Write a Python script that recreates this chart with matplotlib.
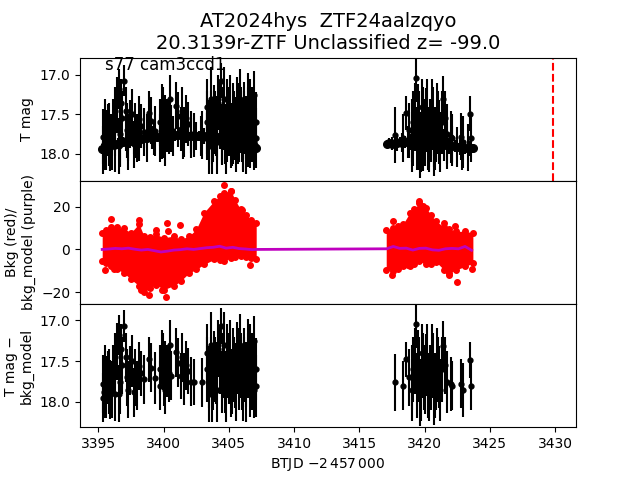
import numpy as np
import matplotlib
matplotlib.use("Agg")
import matplotlib.pyplot as plt

title = "AT2024hys  ZTF24aalzqyo\n20.3139r-ZTF Unclassified z= -99.0"
sector_label = "s77 cam3ccd1"
t_mark = 3429.87

# light curve, well sampled band (top panel only)
t_band1 = [3395.3, 3395.5, 3395.7, 3395.9, 3396.1, 3396.3, 3396.5, 3396.7, 3396.9, 3397.1,
           3397.3, 3397.5, 3397.7, 3397.9, 3398.1, 3398.3, 3398.5, 3398.7, 3398.9, 3399.1,
           3399.3, 3399.5, 3399.7, 3399.9, 3400.1, 3400.3, 3400.5, 3400.7, 3400.9, 3401.1,
           3401.3, 3401.5, 3401.7, 3401.9, 3402.1, 3402.3, 3402.5, 3402.7, 3402.9, 3403.1,
           3403.3, 3403.5, 3403.7, 3403.9, 3404.1, 3404.3, 3404.5, 3404.7, 3404.9, 3405.1,
           3405.3, 3405.5, 3405.7, 3405.9, 3406.1, 3406.3, 3406.5, 3406.7, 3406.9, 3407.1]
m_band1 = [17.94, 17.92, 17.91, 17.90, 17.88, 17.88, 17.87, 17.86, 17.85, 17.84,
           17.84, 17.83, 17.82, 17.82, 17.81, 17.81, 17.80, 17.80, 17.79, 17.79,
           17.79, 17.78, 17.78, 17.78, 17.77, 17.77, 17.77, 17.77, 17.76, 17.76,
           17.76, 17.76, 17.76, 17.77, 17.77, 17.77, 17.77, 17.77, 17.77, 17.77,
           17.78, 17.78, 17.78, 17.78, 17.78, 17.79, 17.79, 17.79, 17.80, 17.80,
           17.81, 17.82, 17.83, 17.84, 17.85, 17.86, 17.87, 17.88, 17.90, 17.92]
e_band1 = [0.06, 0.2, 0.08, 0.25, 0.05, 0.15, 0.07, 0.3, 0.06, 0.12,
           0.25, 0.05, 0.18, 0.07, 0.28, 0.06, 0.12, 0.3, 0.05, 0.15,
           0.22, 0.06, 0.1, 0.28, 0.07, 0.2, 0.05, 0.25, 0.08, 0.15,
           0.06, 0.3, 0.1, 0.07, 0.22, 0.05, 0.18, 0.06, 0.25, 0.1,
           0.3, 0.12, 0.35, 0.1, 0.3, 0.15, 0.35, 0.12, 0.3, 0.2,
           0.32, 0.12, 0.3, 0.15, 0.35, 0.1, 0.3, 0.12, 0.25, 0.08]

t_band2 = [3417.1, 3417.3, 3417.5, 3417.7, 3417.9, 3418.1, 3418.3, 3418.5, 3418.7, 3418.9,
           3419.1, 3419.3, 3419.5, 3419.7, 3419.9, 3420.1, 3420.3, 3420.5, 3420.7, 3420.9,
           3421.1, 3421.3, 3421.5, 3421.7, 3421.9, 3422.1, 3422.3, 3422.5, 3422.7, 3422.9,
           3423.1, 3423.3, 3423.5, 3423.7]
m_band2 = [17.87, 17.86, 17.87, 17.86, 17.86, 17.85, 17.86, 17.85, 17.85, 17.85,
           17.85, 17.84, 17.85, 17.85, 17.86, 17.86, 17.86, 17.87, 17.87, 17.88,
           17.88, 17.88, 17.89, 17.89, 17.90, 17.90, 17.90, 17.91, 17.91, 17.92,
           17.92, 17.92, 17.93, 17.93]
e_band2 = [0.05, 0.06, 0.08, 0.05, 0.1, 0.06, 0.12, 0.08, 0.2, 0.1,
           0.3, 0.12, 0.35, 0.15, 0.35, 0.12, 0.3, 0.15, 0.3, 0.12,
           0.25, 0.1, 0.2, 0.3, 0.1, 0.25, 0.08, 0.25, 0.1, 0.28,
           0.08, 0.3, 0.1, 0.06]

# sparse points with big errors (top and bottom panels)
t_pt = [3395.35, 3395.45, 3395.6, 3395.75, 3395.9, 3396.1, 3396.25, 3396.4, 3396.55, 3396.7,
        3396.85, 3396.97, 3397.1, 3397.3, 3397.45, 3397.6, 3397.8, 3397.95, 3398.13, 3398.3,
        3398.5, 3398.9, 3399.05, 3399.35, 3399.7, 3399.85, 3400.0, 3400.15, 3400.3, 3400.48,
        3400.6, 3400.94, 3401.1, 3401.3, 3401.45, 3401.6, 3401.75, 3401.9, 3402.1, 3402.3,
        3402.94, 3403.3, 3403.45, 3403.6, 3403.75, 3403.9, 3404.05, 3404.2, 3404.4, 3404.55,
        3404.7, 3404.85, 3405.0, 3405.15, 3405.3, 3405.45, 3405.6, 3405.75, 3405.9, 3406.05,
        3406.2, 3406.35, 3406.5, 3406.65, 3406.8, 3406.95, 3407.1,
        3395.4, 3395.55, 3395.85, 3396.05, 3396.3, 3396.6, 3396.75, 3397.2, 3397.7, 3399.75,
        3399.95, 3400.1, 3400.4, 3403.35, 3403.5, 3403.65, 3403.8, 3403.95, 3404.1, 3404.3,
        3404.5, 3404.65, 3404.8, 3404.95, 3405.1, 3405.25, 3405.4, 3405.55, 3405.7, 3405.85,
        3406.0, 3406.15, 3406.3, 3406.45, 3406.6, 3406.75, 3406.9, 3407.05,
        3417.7, 3418.33, 3418.6, 3418.8, 3419.0, 3419.15, 3419.36, 3419.5, 3419.65, 3419.8,
        3419.95, 3420.1, 3420.25, 3420.4, 3420.55, 3420.7, 3420.85, 3421.0, 3421.2, 3421.4,
        3421.55, 3421.7, 3422.0, 3422.1, 3422.8, 3422.95, 3423.45, 3423.55,
        3419.05, 3419.25, 3419.45, 3419.6, 3419.75, 3419.9, 3420.05, 3420.2, 3420.35, 3420.5,
        3420.65, 3420.8, 3420.95, 3421.1, 3421.3]
m_pt = [17.78, 17.88, 17.82, 17.70, 17.85, 17.60, 17.90, 17.38, 17.18, 17.75,
        17.55, 17.07, 17.45, 17.85, 17.62, 17.50, 17.70, 17.80, 17.56, 17.65,
        17.72, 17.48, 17.58, 17.71, 17.60, 17.45, 17.70, 17.55, 17.62, 17.30,
        17.68, 17.39, 17.52, 17.68, 17.45, 17.72, 17.55, 17.62, 17.75, 17.76,
        17.76, 17.40, 17.70, 17.55, 17.85, 17.48, 17.65, 17.35, 17.07, 17.55,
        17.75, 17.40, 17.62, 17.80, 17.45, 17.68, 17.35, 17.72, 17.55, 17.85,
        17.42, 17.66, 17.30, 17.78, 17.50, 17.25, 17.80,
        17.95, 17.65, 17.75, 17.85, 17.45, 17.90, 17.35, 17.70, 17.88, 17.80,
        17.50, 17.85, 17.65, 17.60, 17.90, 17.30, 17.70, 17.60, 17.85, 17.50,
        17.75, 17.30, 17.90, 17.55, 17.40, 17.75, 17.60, 17.85, 17.50, 17.30,
        17.70, 17.60, 17.90, 17.55, 17.45, 17.70, 17.85, 17.60,
        17.76, 17.80, 17.48, 17.70, 17.85, 17.60, 17.04, 17.50, 17.90, 17.40,
        17.70, 17.55, 17.80, 17.65, 17.45, 17.90, 17.75, 17.60, 17.85, 17.31,
        17.55, 17.75, 17.78, 17.80, 17.78, 17.85, 17.49, 17.80,
        17.70, 17.50, 17.80, 17.60, 17.85, 17.55, 17.75, 17.45, 17.85, 17.70,
        17.55, 17.80, 17.50, 17.70, 17.60]
e_pt = [0.35, 0.32, 0.38, 0.33, 0.36, 0.30, 0.33, 0.35, 0.25, 0.40,
        0.35, 0.20, 0.30, 0.35, 0.30, 0.32, 0.35, 0.30, 0.30, 0.28,
        0.30, 0.28, 0.30, 0.32, 0.30, 0.33, 0.35, 0.30, 0.32, 0.30,
        0.30, 0.30, 0.30, 0.28, 0.30, 0.32, 0.30, 0.28, 0.30, 0.28,
        0.30, 0.35, 0.38, 0.35, 0.40, 0.35, 0.38, 0.35, 0.22, 0.40,
        0.38, 0.35, 0.40, 0.38, 0.35, 0.40, 0.33, 0.38, 0.40, 0.38,
        0.33, 0.40, 0.32, 0.40, 0.35, 0.30, 0.38,
        0.30, 0.35, 0.40, 0.35, 0.30, 0.35, 0.30, 0.35, 0.30, 0.30,
        0.35, 0.30, 0.35, 0.40, 0.35, 0.40, 0.40, 0.40, 0.40, 0.40,
        0.38, 0.40, 0.35, 0.40, 0.40, 0.40, 0.40, 0.38, 0.40, 0.38,
        0.40, 0.40, 0.35, 0.40, 0.40, 0.40, 0.35, 0.38,
        0.35, 0.30, 0.22, 0.35, 0.38, 0.40, 0.30, 0.38, 0.40, 0.35,
        0.40, 0.38, 0.40, 0.35, 0.40, 0.38, 0.35, 0.40, 0.38, 0.30,
        0.35, 0.38, 0.33, 0.30, 0.30, 0.33, 0.22, 0.30,
        0.40, 0.40, 0.40, 0.40, 0.38, 0.40, 0.40, 0.40, 0.38, 0.40,
        0.40, 0.40, 0.40, 0.38, 0.40]

# background flux: envelope of the red cloud + outliers
t_bkg = [3395.3, 3395.6, 3395.95, 3396.47, 3396.97, 3397.49, 3398.12, 3398.5, 3399.0, 3399.4,
         3400.04, 3400.8, 3401.3, 3401.96, 3402.5, 3403.1, 3403.88, 3404.3, 3404.65, 3405.16,
         3405.5, 3405.9, 3406.3, 3406.7, 3407.1,
         3417.06, 3417.57, 3418.0, 3418.34, 3418.85, 3419.2, 3419.6, 3420.13, 3420.5, 3420.9,
         3421.5, 3421.9, 3422.4, 3423.1, 3423.7]
bkg_hi = [7.8, 9.0, 10.3, 10.3, 9.9, 7.8, 12.0, 6.3, 6.0, 7.1,
          5.5, 6.3, 4.7, 6.3, 9.4, 17.3, 22.8, 25.0, 26.7, 27.5,
          23.0, 18.8, 16.0, 14.0, 12.5,
          9.3, 10.0, 11.0, 11.8, 17.0, 19.0, 21.8, 19.5, 16.0, 13.2,
          10.4, 9.4, 8.5, 8.5, 7.8]
bkg_lo = [-5.5, -6.5, -7.8, -9.4, -11.0, -14.0, -17.0, -20.0, -18.0, -16.5,
          -18.8, -17.0, -14.9, -11.0, -9.4, -7.0, -4.7, -5.0, -5.5, -3.9,
          -3.5, -3.1, -3.5, -3.9, -4.7,
          -9.6, -10.0, -9.0, -8.0, -8.0, -7.0, -5.6, -7.0, -7.0, -6.0,
          -9.6, -11.0, -9.6, -8.0, -6.4]
t_out = [3395.99, 3398.13, 3399.46, 3400.3, 3400.32, 3401.27, 3395.49, 3396.2, 3398.25, 3398.9,
         3400.17, 3399.9, 3406.64, 3404.65, 3405.16, 3406.0,
         3417.6, 3417.5, 3419.6, 3419.9, 3421.5, 3422.3, 3421.87, 3422.5, 3423.6, 3418.7]
bkg_out = [14.4, 13.8, 9.1, 12.2, 8.6, 11.3, -9.7, -9.1, -18.8, -21.2,
           -22.3, -18.8, -7.1, 30.1, 27.5, 18.5,
           13.2, -11.9, 22.6, 20.2, 12.4, 10.8, -12.2, -15.1, -9.1, -7.5]

# background model (purple)
t_mod = [3395.3, 3395.8, 3396.3, 3396.8, 3397.3, 3397.8, 3398.3, 3398.8, 3399.3, 3399.8,
         3400.3, 3400.8, 3401.3, 3401.8, 3402.3, 3402.8, 3403.3, 3403.8, 3404.3, 3404.8,
         3405.3, 3405.8, 3406.3, 3406.8, 3407.1,
         3417.1, 3417.6, 3418.1, 3418.6, 3419.1, 3419.6, 3420.1, 3420.6, 3421.1, 3421.6,
         3422.1, 3422.6, 3423.1, 3423.6]
bkg_mod = [0.0, 0.2, 0.5, 0.3, 0.6, 0.1, -0.3, 0.0, -0.6, -1.2,
           -0.8, -0.3, -0.1, 0.3, 0.0, 0.4, 0.8, 1.0, 1.5, 0.6,
           1.0, 0.4, 0.2, -0.1, 0.0,
           0.3, 1.4, 0.5, 0.6, -0.3, 0.5, 0.6, -0.2, -0.4, 0.3,
           0.5, 0.3, 1.4, -0.4]

fig, axs = plt.subplots(3, 1, sharex=True, figsize=(6.4, 4.8))
fig.subplots_adjust(hspace=0)

ax = axs[0]
ax.errorbar(t_pt, m_pt, yerr=e_pt, fmt='.k', ms=7, elinewidth=1.5)
for tb, mb, eb in [(t_band1, m_band1, e_band1), (t_band2, m_band2, e_band2)]:
    ax.errorbar(tb, mb, yerr=eb, fmt='.k', ms=11, elinewidth=1.5)
ax.axvline(t_mark, color='r', ls='--', lw=1.5)
ax.set_ylim(18.34, 16.78)
ax.set_yticks([17.0, 17.5, 18.0])
ax.set_ylabel("T mag")
ax.set_title(title, fontsize=14)
ax.text(0.05, 0.9, sector_label, transform=ax.transAxes, fontsize=12)

ax = axs[1]
seg = 25
for a, b in [(0, seg), (seg, len(t_bkg))]:
    ax.fill_between(t_bkg[a:b], bkg_lo[a:b], bkg_hi[a:b], color='r', lw=0)
ax.plot(t_bkg, bkg_hi, 'o', color='r', ms=4)
ax.plot(t_bkg, bkg_lo, 'o', color='r', ms=4)
ax.plot(t_out, bkg_out, 'o', color='r', ms=4)
ax.plot(t_mod, bkg_mod, '-', color='m', lw=2)
ax.set_ylim(-25.6, 32.2)
ax.set_yticks([-20, 0, 20])
ax.set_ylabel("Bkg (red)/\nbkg_model (purple)")

ax = axs[2]
ax.errorbar(t_pt, m_pt, yerr=e_pt, fmt='.k', ms=7, elinewidth=1.5)
ax.set_ylim(18.31, 16.8)
ax.set_yticks([17.0, 17.5, 18.0])
ax.set_ylabel("T mag \u2212\nbkg_model")
ax.set_xlim(3393.6, 3431.6)
ax.set_xlabel(r"BTJD $-2\,457\,000$")

fig.savefig("out.png", dpi=100)
